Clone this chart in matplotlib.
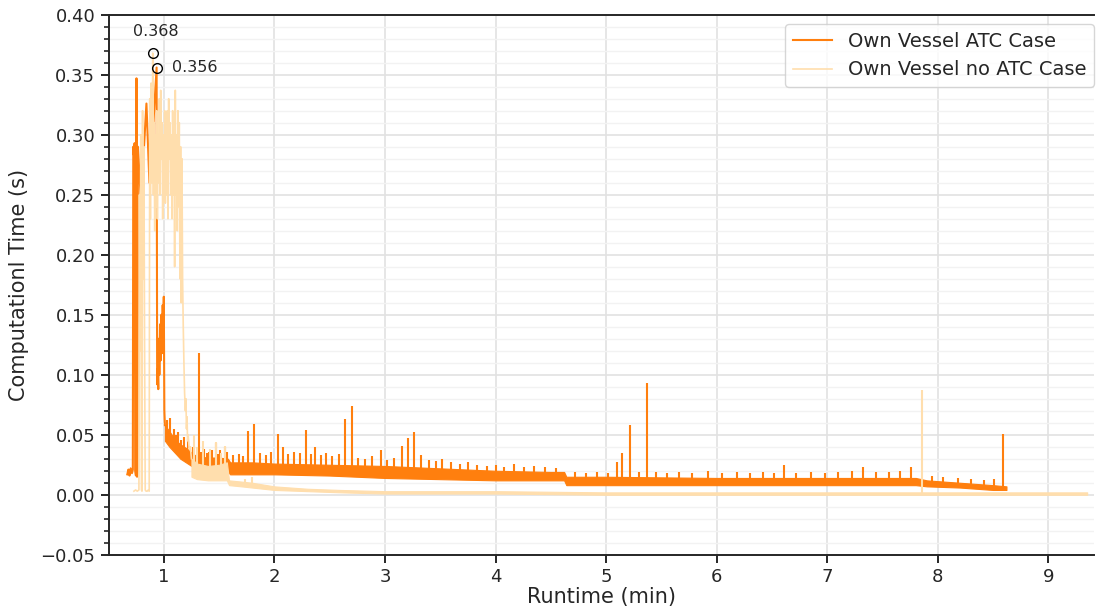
import numpy as np
import matplotlib.pyplot as plt
from matplotlib.ticker import MultipleLocator

# ---- data ----
# Own Vessel ATC Case: start-up phase as a plain line
atc_early_t = [0.670, 0.680, 0.690, 0.700, 0.712, 0.720, 0.724, 0.730, 0.736, 0.742,
               0.748, 0.753, 0.758, 0.762, 0.766, 0.790, 0.815, 0.843, 0.870, 0.900,
               0.935, 0.940, 0.945, 0.950, 0.955, 0.960, 0.966, 0.972, 0.978,
               0.984, 0.990, 0.995, 1.000, 1.005, 1.010]
atc_early_v = [0.017, 0.021, 0.016, 0.022, 0.018, 0.021, 0.290, 0.283, 0.293, 0.020,
               0.016, 0.347, 0.015, 0.021, 0.290, 0.250, 0.280, 0.326, 0.260, 0.300,
               0.356, 0.092, 0.105, 0.088, 0.130, 0.100, 0.142, 0.112, 0.150,
               0.118, 0.158, 0.128, 0.165, 0.070, 0.058]
# ATC: noise band (lower / upper edge) after start-up
atc_band_t = [1.01, 1.05, 1.10, 1.15, 1.20, 1.25, 1.30, 1.40, 1.50, 1.58, 1.60, 1.80,
              2.00, 2.50, 3.00, 3.50, 4.00, 4.50, 4.62, 4.64, 5.00, 6.00, 7.00, 7.80,
              7.90, 8.20, 8.50, 8.62]
atc_band_lo = [0.045, 0.040, 0.035, 0.030, 0.027, 0.024, 0.022, 0.021, 0.020, 0.019, 0.017, 0.017,
               0.017, 0.016, 0.014, 0.013, 0.012, 0.012, 0.012, 0.008, 0.008, 0.008, 0.008, 0.008,
               0.007, 0.006, 0.004, 0.004]
atc_band_hi = [0.058, 0.053, 0.046, 0.042, 0.039, 0.035, 0.032, 0.031, 0.031, 0.030, 0.027, 0.027,
               0.026, 0.025, 0.024, 0.022, 0.020, 0.019, 0.019, 0.015, 0.015, 0.014, 0.014, 0.014,
               0.012, 0.010, 0.008, 0.007]
# ATC: spikes above the band
atc_spike_t = [1.03, 1.06, 1.09, 1.11, 1.13, 1.16, 1.18, 1.22, 1.26, 1.32, 1.34, 1.36,
               1.39, 1.41, 1.44, 1.47, 1.49, 1.51, 1.55, 1.57,
               1.63, 1.68, 1.72, 1.76, 1.82, 1.87, 1.92, 1.97, 2.03, 2.08, 2.12, 2.18,
               2.23, 2.29, 2.33, 2.37, 2.42, 2.47, 2.52, 2.58, 2.64, 2.70, 2.76, 2.82,
               2.88, 2.96, 3.02, 3.08, 3.15, 3.21, 3.26, 3.33, 3.40, 3.46, 3.52, 3.60,
               3.68, 3.75, 3.83, 3.92, 4.00, 4.08, 4.17, 4.26, 4.35, 4.45, 4.55, 4.72,
               4.82, 4.92, 5.02, 5.10, 5.14, 5.22, 5.30, 5.37, 5.45, 5.55, 5.66, 5.78,
               5.92, 6.05, 6.18, 6.30, 6.42, 6.52, 6.61, 6.72, 6.85, 6.98, 7.10, 7.22,
               7.32, 7.44, 7.56, 7.66, 7.76, 7.95, 8.05, 8.18, 8.30, 8.42, 8.51, 8.59]
atc_spike_v = [0.062, 0.064, 0.055, 0.050, 0.052, 0.046, 0.048, 0.045, 0.040, 0.118, 0.036, 0.038,
               0.035, 0.036, 0.037, 0.043, 0.034, 0.037, 0.040, 0.036,
               0.033, 0.034, 0.032, 0.053, 0.059, 0.035, 0.033, 0.036, 0.051, 0.040, 0.034, 0.036,
               0.035, 0.054, 0.034, 0.040, 0.033, 0.035, 0.032, 0.034, 0.063, 0.074, 0.031, 0.030,
               0.032, 0.037, 0.029, 0.031, 0.041, 0.047, 0.052, 0.033, 0.029, 0.028, 0.030, 0.027,
               0.026, 0.027, 0.025, 0.024, 0.025, 0.023, 0.026, 0.023, 0.024, 0.023, 0.022, 0.019,
               0.018, 0.019, 0.018, 0.027, 0.035, 0.058, 0.019, 0.093, 0.019, 0.018, 0.019, 0.018,
               0.020, 0.018, 0.019, 0.018, 0.019, 0.018, 0.025, 0.018, 0.019, 0.018, 0.019, 0.020,
               0.023, 0.019, 0.019, 0.020, 0.023, 0.016, 0.015, 0.014, 0.013, 0.012, 0.013, 0.051]

# Own Vessel no ATC Case: start-up phase as a plain line
noatc_early_t = [0.730, 0.745, 0.760, 0.775, 0.780, 0.786, 0.792, 0.798, 0.803, 0.808,
                 0.814, 0.820, 0.826, 0.832, 0.840, 0.850, 0.860, 0.868,
                 0.873, 0.879, 0.885, 0.891, 0.897, 0.900, 0.906, 0.912, 0.918, 0.924,
                 0.930, 0.936, 0.942, 0.948, 0.954, 0.960, 0.966, 0.972, 0.978, 0.984,
                 0.990, 0.996, 1.002, 1.008, 1.014, 1.020, 1.026, 1.032, 1.038, 1.044,
                 1.050, 1.056, 1.062, 1.068, 1.074, 1.080, 1.086, 1.092, 1.098, 1.104,
                 1.110, 1.116, 1.122, 1.128, 1.134, 1.140, 1.146, 1.152, 1.158, 1.164,
                 1.170, 1.176, 1.182, 1.188, 1.195, 1.200, 1.205, 1.210, 1.215, 1.220,
                 1.230, 1.240, 1.250]
noatc_early_v = [0.003, 0.004, 0.003, 0.004, 0.250, 0.120, 0.300, 0.004, 0.003, 0.320,
                 0.180, 0.290, 0.130, 0.004, 0.003, 0.003, 0.004, 0.003,
                 0.330, 0.230, 0.343, 0.260, 0.300, 0.368, 0.250, 0.310, 0.220, 0.300,
                 0.240, 0.320, 0.230, 0.300, 0.260, 0.330, 0.250, 0.337, 0.280, 0.310,
                 0.230, 0.300, 0.250, 0.320, 0.243, 0.290, 0.250, 0.320, 0.230, 0.330,
                 0.280, 0.310, 0.250, 0.300, 0.230, 0.320, 0.250, 0.300, 0.190, 0.337,
                 0.250, 0.300, 0.220, 0.320, 0.240, 0.310, 0.180, 0.290, 0.160, 0.280,
                 0.180, 0.140, 0.110, 0.085, 0.070, 0.080, 0.055, 0.065, 0.045, 0.050,
                 0.038, 0.040, 0.030]
# no ATC: noise band
noatc_band_t = [1.25, 1.30, 1.40, 1.50, 1.57, 1.59, 1.70, 1.80, 2.00, 2.30, 2.60, 3.00,
                3.50, 4.00, 5.00, 6.00, 7.00, 8.00, 8.60, 9.35]
noatc_band_lo = [0.015, 0.013, 0.012, 0.012, 0.012, 0.008, 0.007, 0.006, 0.004, 0.003, 0.002, 0.001,
                 0.001, 0.001, 0.000, 0.000, 0.000, 0.000, 0.000, 0.000]
noatc_band_hi = [0.030, 0.026, 0.024, 0.025, 0.027, 0.012, 0.011, 0.010, 0.007, 0.005, 0.004, 0.003,
                 0.003, 0.003, 0.002, 0.002, 0.002, 0.002, 0.002, 0.002]
noatc_spike_t = [1.27, 1.30, 1.35, 1.42, 1.47, 1.52, 1.55, 1.73, 1.80, 7.86]
noatc_spike_v = [0.050, 0.040, 0.045, 0.038, 0.044, 0.035, 0.041, 0.013, 0.015, 0.087]

atc_color = '#ff7f0e'
noatc_color = '#ffdead'
dark = '#262626'

plt.rcParams['font.family'] = ['DejaVu Sans']
fig = plt.figure(figsize=(10.96, 6.13), dpi=100)
ax = fig.add_axes([0.099, 0.095, 0.899, 0.881])

# ATC case
ax.plot(atc_early_t, atc_early_v, color=atc_color, lw=1.5, label='Own Vessel ATC Case', zorder=3)
ax.fill_between(atc_band_t, atc_band_lo, atc_band_hi, color=atc_color, lw=0.8, zorder=3)
base = np.interp(atc_spike_t, atc_band_t, atc_band_hi)
ax.vlines(atc_spike_t, base * 0.9, atc_spike_v, color=atc_color, lw=1.5, zorder=3)

# no ATC case (drawn on top)
ax.plot(noatc_early_t, noatc_early_v, color=noatc_color, lw=1.2, label='Own Vessel no ATC Case', zorder=4)
ax.fill_between(noatc_band_t, noatc_band_lo, noatc_band_hi, color=noatc_color, lw=0.8, zorder=4)
base = np.interp(noatc_spike_t, noatc_band_t, noatc_band_hi)
ax.vlines(noatc_spike_t, base * 0.9, noatc_spike_v, color=noatc_color, lw=1.5, zorder=4)

# peak markers
i = int(np.argmax(noatc_early_v))
ax.plot(noatc_early_t[i], noatc_early_v[i], 'o', mfc='none', mec='black', ms=7, zorder=5)
ax.annotate(f'{noatc_early_v[i]:.3f}', (noatc_early_t[i], noatc_early_v[i]),
            xytext=(2, 10), textcoords='offset points', ha='center', va='bottom',
            fontsize=11.5, color=dark)
j = int(np.argmax(atc_early_v))
ax.plot(atc_early_t[j], atc_early_v[j], 'o', mfc='none', mec='black', ms=7, zorder=5)
ax.annotate(f'{atc_early_v[j]:.3f}', (atc_early_t[j], atc_early_v[j]),
            xytext=(11, 0), textcoords='offset points', ha='left', va='center',
            fontsize=11.5, color=dark)

# axes styling
ax.set_xlim(0.5, 9.41)
ax.set_ylim(-0.05, 0.40)
ax.set_xticks(range(1, 10))
ax.yaxis.set_major_locator(MultipleLocator(0.05))
ax.yaxis.set_minor_locator(MultipleLocator(0.01))
ax.grid(which='major', color='#e2e2e2', lw=1.2, zorder=0)
ax.grid(which='minor', axis='y', color='#f2f2f2', lw=1.0, zorder=0)
ax.set_axisbelow(True)
ax.spines['right'].set_visible(False)
for s in ['left', 'bottom', 'top']:
    ax.spines[s].set_color(dark)
    ax.spines[s].set_linewidth(1.4)
ax.tick_params(axis='both', which='major', labelsize=13, length=6, width=1.4, colors=dark)
ax.tick_params(axis='y', which='minor', length=3.5, width=1.2, colors=dark)
ax.tick_params(axis='x', which='minor', bottom=False)
ax.set_xlabel('Runtime (min)', fontsize=15, color=dark, labelpad=1)
ax.set_ylabel('Computationl Time (s)', fontsize=15, color=dark, labelpad=8)

leg = ax.legend(loc='upper right', bbox_to_anchor=(1.0, 0.983), fontsize=14, frameon=True,
                fancybox=True, borderaxespad=0.0, handlelength=2.0)
leg.get_frame().set_edgecolor('#cccccc')
for t in leg.get_texts():
    t.set_color(dark)

fig.savefig('out.png', dpi=100)
